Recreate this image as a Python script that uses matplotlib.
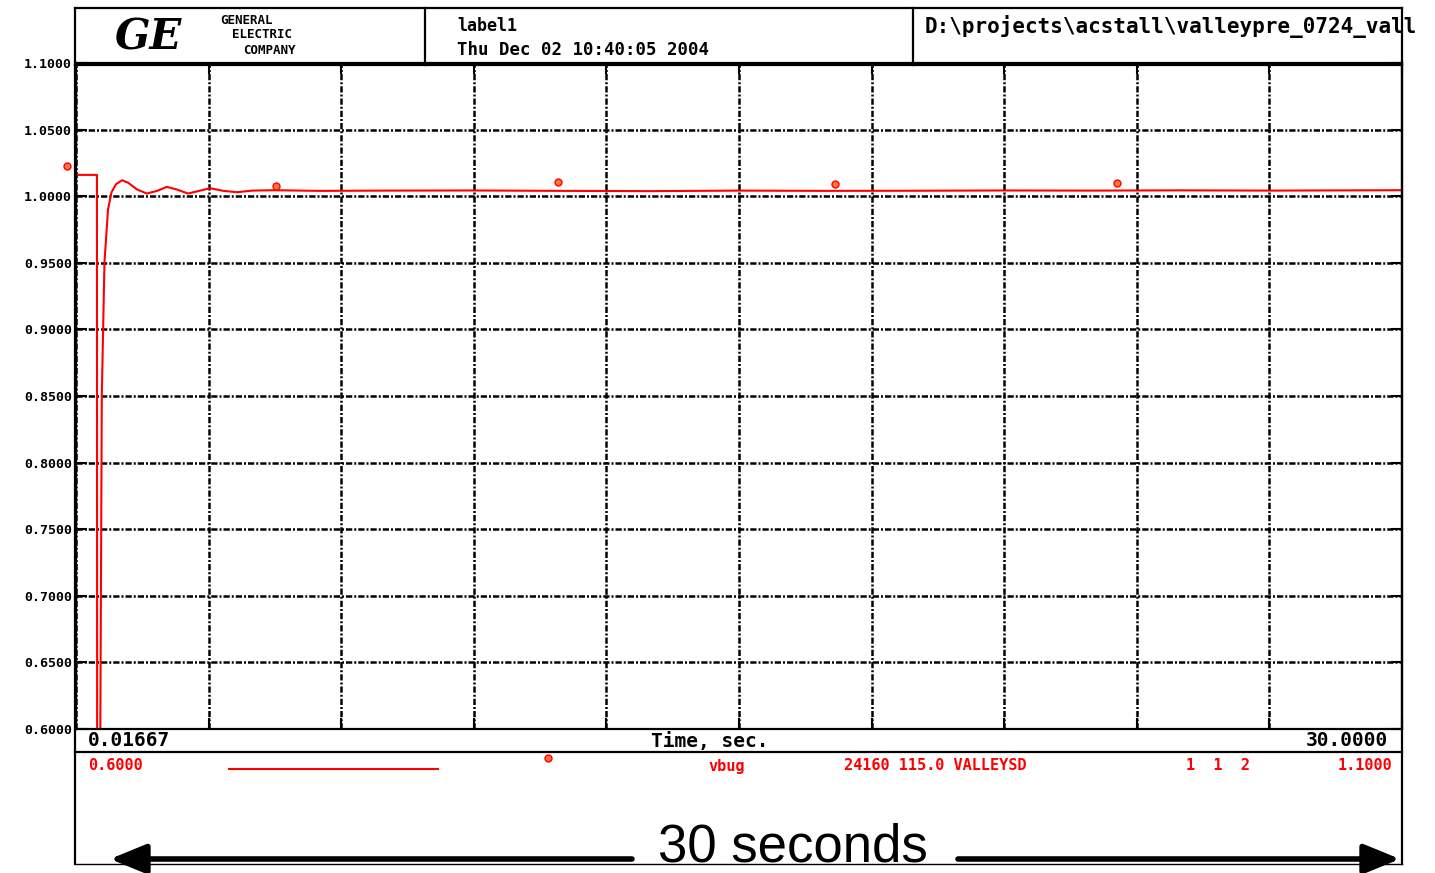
import matplotlib
matplotlib.use("Agg")
import matplotlib.pyplot as plt
from matplotlib.lines import Line2D
from matplotlib.patches import FancyArrowPatch
import numpy as np

W, H = 1435, 873

# bus voltage vbug (pu) vs time (s)
time_s = [0.01667, 0.49, 0.495, 0.56, 0.60, 0.66, 0.74, 0.82, 0.92, 1.06, 1.20,
          1.40, 1.62, 1.85, 2.07, 2.30, 2.55, 2.80, 3.05, 3.35, 3.66, 4.00, 4.50,
          5.50, 7.0, 9.0, 11.0, 13.0, 15.0, 17.0, 19.0, 21.0, 23.0, 25.0, 27.0, 30.0]
vbug = [1.016, 1.016, 0.55, 0.55, 0.85, 0.95, 0.99, 1.003, 1.009, 1.012, 1.010,
        1.005, 1.002, 1.004, 1.007, 1.005, 1.002, 1.004, 1.006, 1.004, 1.003, 1.0042, 1.0045,
        1.0040, 1.0042, 1.0043, 1.0040, 1.0038, 1.0042, 1.0040, 1.0041, 1.0043, 1.0042, 1.0044, 1.0042, 1.0045]

# curve identification symbols
mark_t = [-0.19, 4.54, 10.92, 17.18, 23.56]
mark_v = [1.0225, 1.008, 1.0105, 1.009, 1.0098]

t_min, t_max = 0.01667, 30.0
v_min, v_max = 0.6, 1.1
yticks = [0.60, 0.65, 0.70, 0.75, 0.80, 0.85, 0.90, 0.95, 1.00, 1.05, 1.10]

mono = "DejaVu Sans Mono"


def fx(x):
    return x / W


def fy(y):
    return 1 - y / H


fig = plt.figure(figsize=(W / 100, H / 100), dpi=100)
ax = fig.add_axes([fx(76), fy(729), (1402 - 76) / W, (729 - 63) / H])

ax.plot(time_s, vbug, color="#ff0000", lw=1.5)
ax.plot(mark_t, mark_v, "o", ms=5, mfc="#ff7a3a", mec="#ff0000", mew=1, clip_on=False)

ax.set_xlim(t_min, t_max)
ax.set_ylim(v_min, v_max)
ax.set_xticks(np.linspace(t_min, t_max, 11))
ax.set_xticklabels([])
ax.set_yticks(yticks)
ax.set_yticklabels(["%.4f" % v for v in yticks], family=mono, weight="bold", fontsize=9.5)
ax.tick_params(axis="both", direction="in", length=8, width=1.5, pad=3,
               top=True, right=True)
ax.grid(True, color="k", lw=1.8, linestyle=(0, (2.5, 0.8, 0.8, 0.8)))
for s in ax.spines.values():
    s.set_linewidth(1.6)


def hline(y, x0=75, x1=1402, lw=1.6):
    fig.add_artist(Line2D([fx(x0), fx(x1)], [fy(y), fy(y)], color="k", lw=lw))


def vline(x, y0, y1, lw=1.6):
    fig.add_artist(Line2D([fx(x), fx(x)], [fy(y0), fy(y1)], color="k", lw=lw))


# frame: header, strip, bottom
hline(8)
hline(65)
hline(752)
hline(864, lw=1.0)
vline(75, 8, 864)
vline(1402, 8, 864)
vline(425, 8, 65)
vline(913, 8, 65)

# header block
fig.text(fx(148), fy(38), "GE", family="DejaVu Serif", style="italic", weight="bold",
         fontsize=30, ha="center", va="center")
fig.text(fx(220), fy(20), "GENERAL", family=mono, weight="bold", fontsize=9, va="center")
fig.text(fx(232), fy(35), "ELECTRIC", family=mono, weight="bold", fontsize=9, va="center")
fig.text(fx(243), fy(50), "COMPANY", family=mono, weight="bold", fontsize=9, va="center")
fig.text(fx(457), fy(26), "label1", family=mono, weight="bold", fontsize=12, va="center")
fig.text(fx(457), fy(50), "Thu Dec 02 10:40:05 2004", family=mono, weight="bold",
         fontsize=12.5, va="center")
fig.text(fx(925), fy(27), "D:\\projects\\acstall\\valleypre_0724_vall", family=mono,
         weight="bold", fontsize=15, va="center")

# time axis strip
fig.text(fx(88), fy(741), "0.01667", family=mono, weight="bold", fontsize=14, va="center")
fig.text(fx(710), fy(741), "Time, sec.", family=mono, weight="bold", fontsize=14,
         ha="center", va="center")
fig.text(fx(1388), fy(741), "30.0000", family=mono, weight="bold", fontsize=14,
         ha="right", va="center")

# channel legend
red = "#ff0000"
fig.text(fx(88), fy(766), "0.6000", family=mono, weight="bold", fontsize=11,
         color=red, va="center")
fig.add_artist(Line2D([fx(229), fx(438)], [fy(769), fy(769)], color=red, lw=1.5))
fig.add_artist(Line2D([fx(548)], [fy(758)], marker="o", ms=5, mfc="#ff7a3a", mec=red, mew=1))
fig.text(fx(727), fy(766), "vbug", family=mono, weight="bold", fontsize=11,
         color=red, ha="center", va="center")
fig.text(fx(935), fy(766), "24160 115.0 VALLEYSD", family=mono, weight="bold",
         fontsize=11, color=red, ha="center", va="center")
fig.text(fx(1218), fy(766), "1  1  2", family=mono, weight="bold", fontsize=11,
         color=red, ha="center", va="center")
fig.text(fx(1392), fy(766), "1.1000", family=mono, weight="bold", fontsize=11,
         color=red, ha="right", va="center")

# 30 seconds span
fig.text(fx(793), fy(862), "30 seconds", family="Liberation Sans", fontsize=38,
         ha="center", va="baseline")
for a, b in [((632, 859), (110, 859)), ((958, 859), (1400, 859))]:
    fig.add_artist(FancyArrowPatch((fx(a[0]), fy(a[1])), (fx(b[0]), fy(b[1])),
                                   transform=fig.transFigure, color="k", lw=4,
                                   arrowstyle="-|>,head_length=1.1,head_width=0.45",
                                   mutation_scale=20, shrinkA=0, shrinkB=0))

fig.savefig("out.png", dpi=100)
